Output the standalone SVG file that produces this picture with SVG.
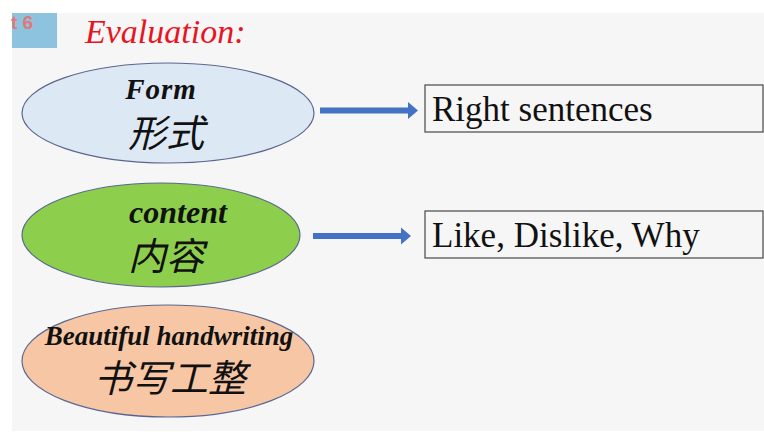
<svg xmlns="http://www.w3.org/2000/svg" width="764" height="432" viewBox="0 0 764 432">
<defs>
<style>
.bg{fill:#f6f6f6}
.en{font-family:"Liberation Serif","Times New Roman",serif;font-weight:bold;font-style:italic;fill:#111;text-anchor:middle}
.cn{font-family:"Noto Sans CJK SC","Liberation Sans",sans-serif;font-style:italic;fill:#111;text-anchor:middle}
.box{fill:none;stroke:#555;stroke-width:1.3}
.bt{font-family:"Liberation Serif","Times New Roman",serif;font-size:35px;fill:#111}
.ell{stroke:#5a6690;stroke-width:1.2}
.arr{fill:#4472c4}
</style>
</defs>
<rect width="764" height="432" fill="#ffffff"/>
<rect class="bg" x="12" y="13" width="752" height="418"/>
<g id="tab">
<rect x="12" y="13" width="45" height="35" fill="#8ec3e0"/>
<text x="11" y="29" font-family="Liberation Sans, Arial, sans-serif" font-weight="bold" font-size="19" fill="#e07878">t 6</text>
</g>
<g id="title">
<text x="85" y="43" font-family="Liberation Serif, Times New Roman, serif" font-style="italic" font-size="34" fill="#e8141e">Evaluation:</text>
</g>
<g id="form">
<ellipse class="ell" cx="168" cy="113" rx="146" ry="50" fill="#dde8f5"/>
<text class="en" x="161" y="99" font-size="29" letter-spacing="1">Form</text>
<text class="cn" x="166" y="147" font-size="38">形式</text>
</g>
<g id="content">
<ellipse class="ell" cx="161" cy="235" rx="139" ry="52" fill="#8dcf4c"/>
<text class="en" x="178" y="223" font-size="32">content</text>
<text class="cn" x="166" y="270" font-size="38">内容</text>
</g>
<g id="handwriting">
<ellipse class="ell" cx="168" cy="361" rx="146" ry="56" fill="#f7c7a5"/>
<text class="en" x="169" y="345" font-size="27">Beautiful handwriting</text>
<text class="cn" x="170" y="392" font-size="38">书写工整</text>
</g>
<g id="right-sentences">
<rect class="box" x="425" y="85" width="338" height="47"/>
<text class="bt" x="432" y="121">Right sentences</text>
</g>
<g id="like-dislike">
<rect class="box" x="425" y="211" width="338" height="47"/>
<text class="bt" x="432" y="247">Like, Dislike, Why</text>
</g>
<g id="connectors">
<polygon class="arr" points="320,107.5 408,107.5 408,102 418,110.5 408,119 408,113.5 320,113.5"/>
<polygon class="arr" points="313,233 401,233 401,227.5 411,236 401,244.5 401,239 313,239"/>
</g>
</svg>
